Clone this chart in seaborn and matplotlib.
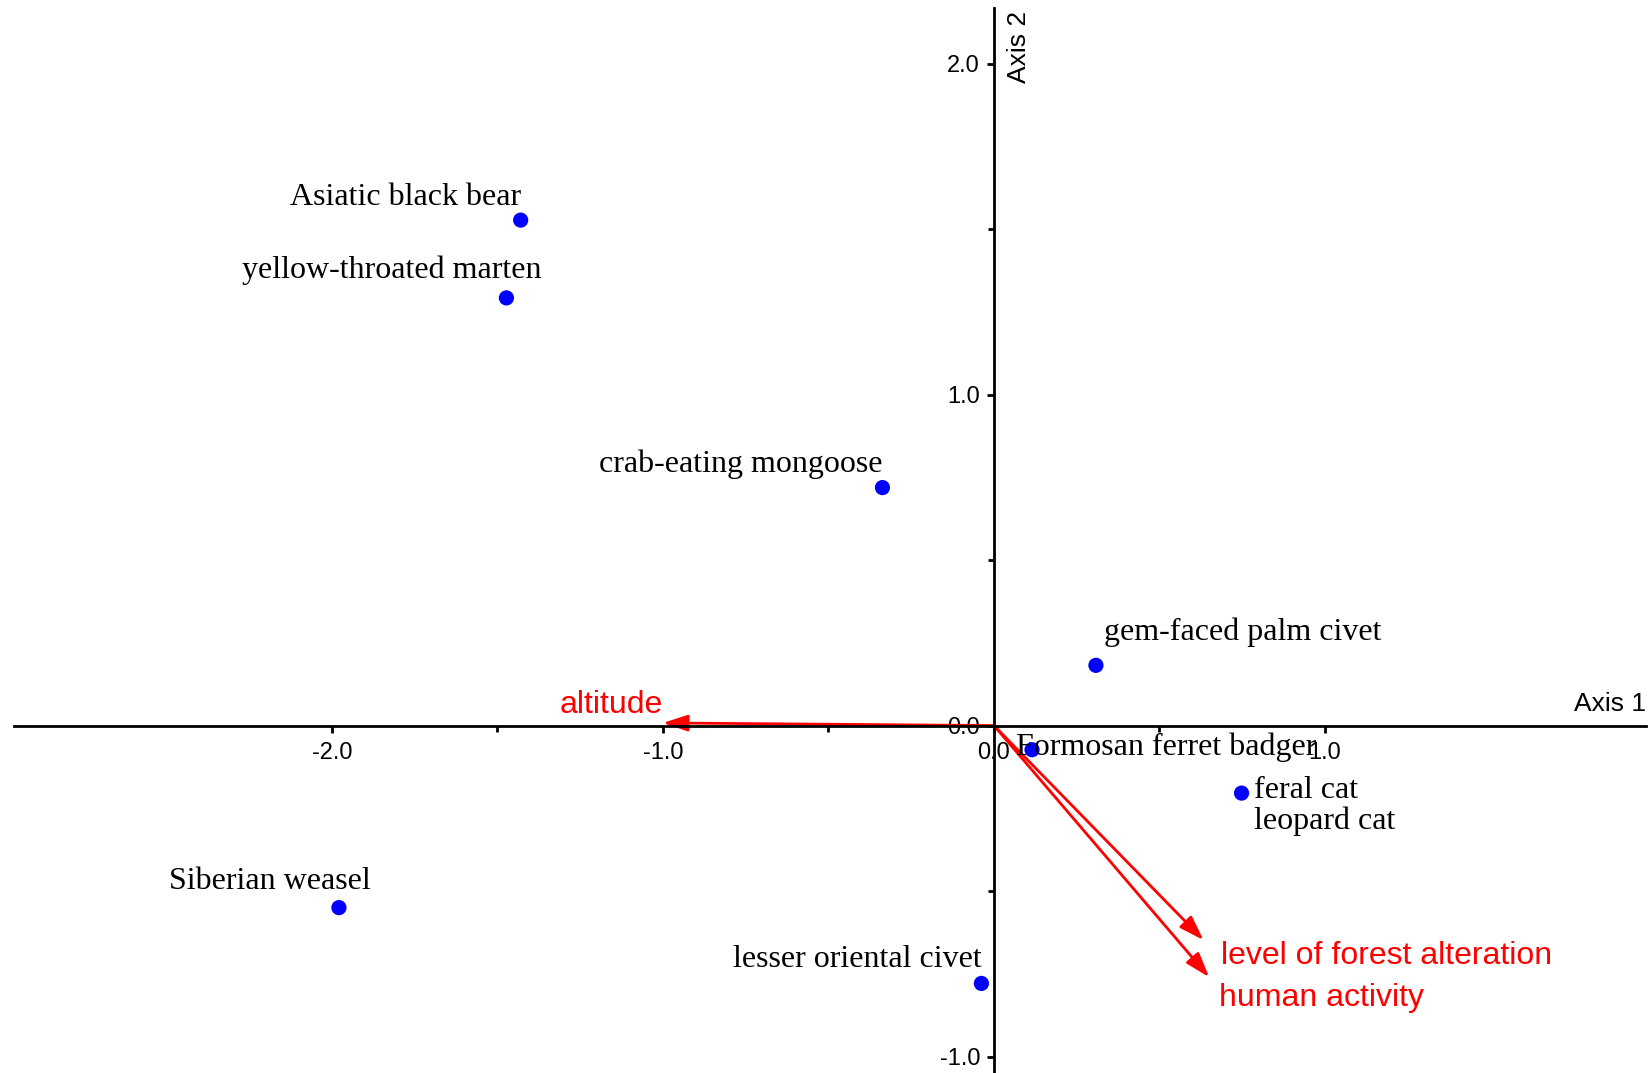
import numpy as np
import pandas as pd
import matplotlib.pyplot as plt
import seaborn as sns
from matplotlib.ticker import FixedLocator

sns.set_style("white")
plt.rcParams["font.family"] = ["Liberation Sans", "DejaVu Sans"]
plt.rcParams["text.color"] = "black"

# -----------------------------
# DATA
# -----------------------------
species = ["Asiatic black bear", "yellow-throated marten", "crab-eating mongoose",
           "gem-faced palm civet", "Formosan ferret badger", "feral cat",
           "Siberian weasel", "lesser oriental civet"]
axis1 = [-1.43, -1.473, -0.337, 0.308, 0.115, 0.748, -1.979, -0.038]
axis2 = [1.527, 1.292, 0.719, 0.182, -0.073, -0.204, -0.55, -0.779]

# label anchor positions for species (text only)
label_text = ["Asiatic black bear", "yellow-throated marten", "crab-eating mongoose",
              "gem-faced palm civet", "Formosan ferret badger", "feral cat",
              "leopard cat", "Siberian weasel", "lesser oriental civet"]
label_x = [-1.43, -1.366, -0.337, 0.331, 0.066, 0.786, 0.786, -1.883, -0.038]
label_y = [1.594, 1.375, 0.788, 0.281, -0.066, -0.196, -0.288, -0.472, -0.708]
label_ha = ["right", "right", "right", "left", "left", "left", "left", "right", "right"]

# environmental vectors
env_names = ["altitude", "level of forest alteration", "human activity"]
env_x = [-1.0, 0.633, 0.65]
env_y = [0.008, -0.648, -0.76]
env_lab_x = [-1.157, 0.687, 0.68]
env_lab_y = [0.062, -0.696, -0.823]
env_ha = ["center", "left", "left"]

df = pd.DataFrame({"species": species, "Axis 1": axis1, "Axis 2": axis2})

# -----------------------------
# PLOT
# -----------------------------
fig = plt.figure(figsize=(16.51, 10.73), dpi=100)
ax = fig.add_axes([0, 0, 1, 1])

ax.set_xlim(-3.003, 1.985)
ax.set_ylim(-1.0496, 2.192)

sns.scatterplot(data=df, x="Axis 1", y="Axis 2", color="#0000ff", s=120,
                edgecolor="none", ax=ax, zorder=3)
ax.set_xlabel("")
ax.set_ylabel("")

for t, x, y, ha in zip(label_text, label_x, label_y, label_ha):
    ax.text(x, y, t, ha=ha, va="center", fontsize=23, color="black",
            family=["Liberation Serif", "DejaVu Serif"], zorder=4)

for name, x, y, lx, ly, ha in zip(env_names, env_x, env_y, env_lab_x, env_lab_y, env_ha):
    ax.annotate("", xy=(x, y), xytext=(0, 0),
                arrowprops=dict(arrowstyle="-|>,head_length=1.5,head_width=0.5",
                                color="#ff0000", lw=2, shrinkA=0, shrinkB=0),
                zorder=2)
    ax.text(lx, ly, name, ha=ha, va="center", fontsize=23, color="#ff0000")

# axes crossing at origin
for side in ["top", "right"]:
    ax.spines[side].set_visible(False)
ax.spines["left"].set_position(("data", 0))
ax.spines["bottom"].set_position(("data", 0))
ax.spines["left"].set_bounds(-1.05, 2.167)
ax.spines["bottom"].set_bounds(-2.96, 1.97)
for side in ["left", "bottom"]:
    ax.spines[side].set_linewidth(2)
    ax.spines[side].set_color("black")

ax.xaxis.set_major_locator(FixedLocator([-2.0, -1.0, 0.0, 1.0]))
ax.xaxis.set_minor_locator(FixedLocator([-1.5, -0.5, 0.5]))
ax.yaxis.set_major_locator(FixedLocator([-1.0, 0.0, 1.0, 2.0]))
ax.yaxis.set_minor_locator(FixedLocator([-0.5, 0.5, 1.5]))
ax.xaxis.set_major_formatter(lambda v, p: f"{v:.1f}")
ax.yaxis.set_major_formatter(lambda v, p: f"{v:.1f}")
ax.tick_params(which="both", bottom=True, left=True)
ax.tick_params(which="major", direction="out", length=5, width=2, labelsize=17,
               colors="black")
ax.tick_params(which="minor", direction="out", length=4, width=2, colors="black")
ax.tick_params(axis="x", which="major", pad=7)
ax.tick_params(axis="y", which="major", pad=5)

ax.text(1.97, 0.03, "Axis 1", ha="right", va="bottom", fontsize=19)
ax.text(0.04, 2.16, "Axis 2", ha="left", va="top", rotation=90, fontsize=19)

fig.savefig("out.png", dpi=100)
